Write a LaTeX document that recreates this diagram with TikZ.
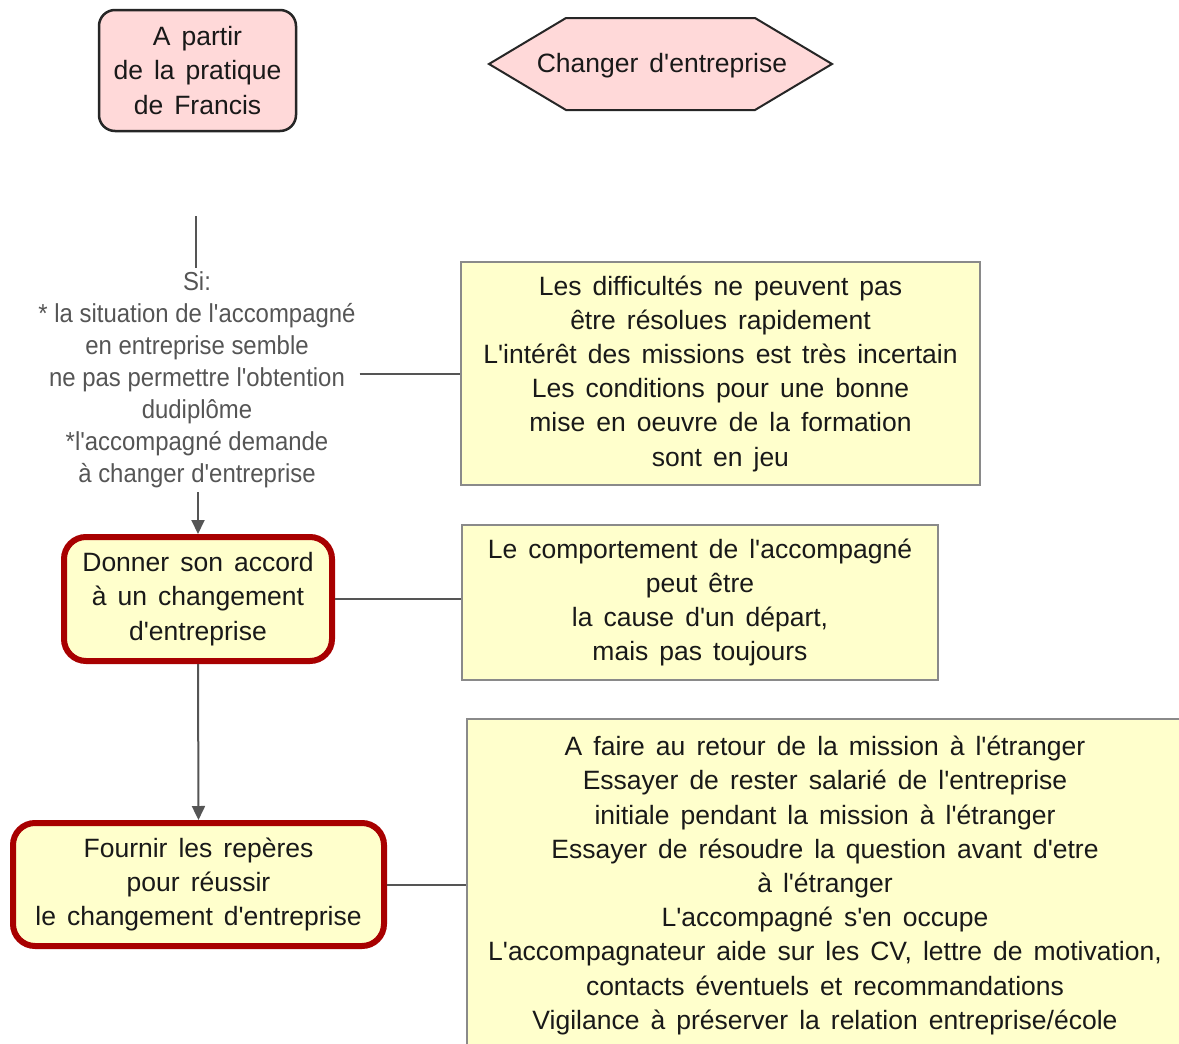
\documentclass[tikz,border=0pt]{standalone}
\usepackage{fontspec}
\setmainfont{Liberation Sans}[WordSpace=1.5, Ligatures=TeXOff]
\newfontfamily\condfont{Liberation Sans}[FakeStretch=0.92]
\usetikzlibrary{arrows.meta}
\definecolor{pinkfill}{HTML}{FFD9D9}
\definecolor{yelfill}{HTML}{FFFFCC}
\definecolor{redline}{HTML}{A80000}
\definecolor{conn}{HTML}{555555}
\definecolor{boxline}{HTML}{8A8A8A}
\begin{document}
\begin{tikzpicture}[x=1pt,y=-1pt,
  txt/.style={font=\fontsize{26.5}{34.2}\selectfont, align=center, text=black!90, inner sep=0pt},
  startbox/.style={txt, draw=black!85, line width=2.5pt, fill=pinkfill, rounded corners=16pt},
  actbox/.style={txt, draw=redline, line width=6pt, fill=yelfill, rounded corners=22pt},
  notebox/.style={txt, draw=boxline, line width=2pt, fill=yelfill},
  conn/.style={draw=conn, line width=2pt},
  arr/.style={conn, -{Triangle[length=14pt,width=13pt]}}
]
\useasboundingbox (0,0) rectangle (1179,1044);
\clip (0,0) rectangle (1179,1044);
\fill[white] (0,0) rectangle (1179,1044);

% start box
\node[startbox, minimum width=197pt, minimum height=121pt] (start) at (197.5,70.5)
  {A partir\\de la pratique\\de Francis};

% hexagon
\coordinate (h1) at (489,64);
\coordinate (h2) at (566,18);
\coordinate (h3) at (755,18);
\coordinate (h4) at (832,64);
\coordinate (h5) at (755,110);
\coordinate (h6) at (566,110);
\filldraw[fill=pinkfill, draw=black!85, line width=2pt] (h1) -- (h2) -- (h3) -- (h4) -- (h5) -- (h6) -- cycle;
\node[txt] (hex) at (662,66) {Changer  d'entreprise};

% condition text
\coordinate (ctop) at (196,216);
\node[font=\condfont\fontsize{26}{32}\selectfont, align=center, text=conn, inner sep=4pt] (cond) at (197,380)
  {Si:\\* la situation de l'accompagné\\en entreprise semble\\ne pas permettre l'obtention\\dudiplôme\\*l'accompagné demande\\à changer d'entreprise};

% note boxes
\node[notebox, minimum width=519pt, minimum height=223pt] (n1) at (720.5,373.5)
  {Les difficultés ne peuvent pas\\être résolues rapidement\\L'intérêt des missions est très incertain\\Les conditions pour une bonne\\mise en oeuvre de la formation\\sont en jeu};
\node[notebox, minimum width=476pt, minimum height=155pt] (n2) at (700,602.5)
  {Le comportement de l'accompagné\\peut être\\la cause d'un départ,\\mais pas toujours};
\node[notebox, minimum width=716pt, minimum height=333pt] (n3) at (825,885.5)
  {A faire au retour de la mission à l'étranger\\Essayer de rester salarié de l'entreprise\\initiale pendant la mission à l'étranger\\Essayer de résoudre la question avant d'etre\\à l'étranger\\L'accompagné s'en occupe\\L'accompagnateur aide sur les CV, lettre de motivation,\\contacts éventuels et recommandations\\Vigilance à préserver la relation entreprise/école};

% action boxes
\node[actbox, minimum width=268pt, minimum height=124pt] (donner) at (198,599)
  {Donner son accord\\à un changement\\d'entreprise};
\node[actbox, minimum width=371pt, minimum height=123pt] (fournir) at (198.5,884.5)
  {Fournir les repères\\pour réussir\\le changement d'entreprise};

% connectors
\draw[conn] (ctop) -- (ctop |- cond.north);
\draw[conn] (cond.east |- n1.west) -- (n1.west);
\draw[arr] (cond.south -| donner.north) -- (donner.north);
\draw[conn] (donner.east) -- (donner.east -| n2.west);
\draw[arr] (donner.south) -- (fournir.north);
\draw[conn] (fournir.east) -- (n3.west |- fournir.east);
\end{tikzpicture}
\end{document}
